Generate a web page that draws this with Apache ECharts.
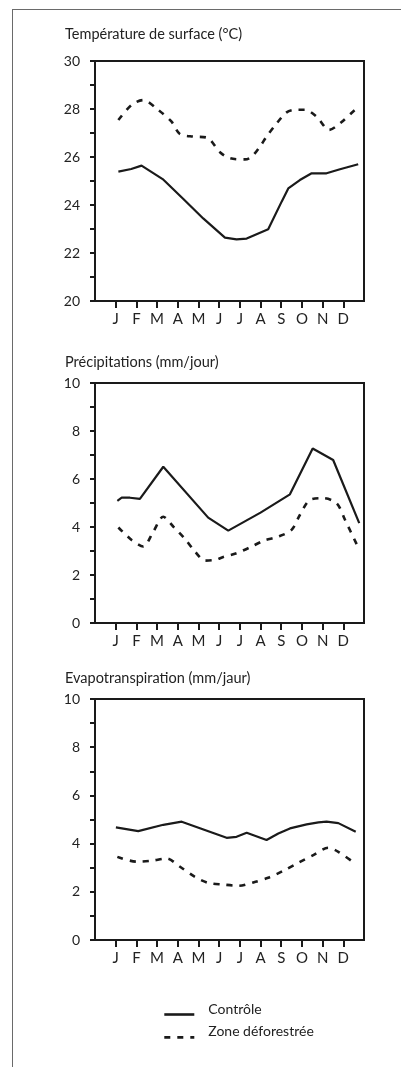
<!DOCTYPE html>
<html>
<head>
<meta charset="utf-8">
<script src="https://cdn.jsdelivr.net/npm/echarts@6/dist/echarts.min.js"></script>
<style>
  html, body { margin: 0; padding: 0; background: #fff; }
  #chart { width: 401px; height: 1067px; }
  #frame {
    position: absolute; left: 12px; top: 9px; right: 0; bottom: 0;
    border-top: 1.5px solid #6a6a6a; border-left: 1.5px solid #6a6a6a;
    pointer-events: none;
  }
</style>
</head>
<body>
<div id="chart"></div>
<div id="frame"></div>
<script>
// Month initials shown under each panel, placed at positions 1..12
const months = ['J', 'F', 'M', 'A', 'M', 'J', 'J', 'A', 'S', 'O', 'N', 'D'];
const monthPos = [1, 2, 3, 4, 5, 6, 7, 8, 9, 10, 11, 12];

const panelTitles = [
  'Température de surface (°C)',
  'Précipitations (mm/jour)',
  'Evapotranspiration (mm/jaur)'
];
const yMin = [20, 0, 0];
const yMax = [30, 10, 10];

const seriesNames = ['Contrôle', 'Zone déforestrée'];

// [month position, value]
const tempControle = [
  [1.13, 25.39], [1.75, 25.5], [2.25, 25.64], [3.27, 25.08], [4.27, 24.25],
  [5.23, 23.44], [6.28, 22.64], [6.84, 22.57], [7.33, 22.6], [8.37, 22.99],
  [9.02, 24.14], [9.34, 24.69], [9.9, 25.04], [10.47, 25.32], [11.19, 25.32],
  [11.84, 25.49], [12.72, 25.7]
];
const tempDeforest = [
  [1.13, 27.54], [1.77, 28.17], [2.33, 28.37], [3.06, 27.96], [3.7, 27.47],
  [4.1, 26.96], [4.75, 26.85], [5.4, 26.81], [6.04, 26.2], [6.52, 25.95],
  [7.25, 25.9], [7.56, 26.0], [7.97, 26.43], [8.29, 26.85], [8.78, 27.4],
  [9.26, 27.86], [9.74, 27.97], [10.14, 27.97], [10.71, 27.68], [11.32, 27.13],
  [11.84, 27.4], [12.56, 27.96], [12.72, 28.03]
];
const precControle = [
  [1.08, 5.09], [1.29, 5.22], [1.69, 5.22], [2.17, 5.17], [3.3, 6.51],
  [5.47, 4.39], [6.44, 3.85], [8.0, 4.6], [9.42, 5.36], [10.52, 7.27],
  [11.51, 6.79], [12.77, 4.16]
];
const precDeforest = [
  [1.13, 3.98], [1.77, 3.46], [2.33, 3.19], [2.82, 3.81], [3.3, 4.43],
  [3.78, 4.02], [4.35, 3.5], [4.83, 2.98], [5.31, 2.6], [5.8, 2.63],
  [6.2, 2.75], [6.84, 2.91], [7.49, 3.15], [8.13, 3.42], [8.86, 3.6],
  [9.5, 3.88], [9.9, 4.5], [10.39, 5.13], [11.03, 5.2], [11.68, 4.99],
  [12.08, 4.3], [12.72, 3.15]
];
const evapControle = [
  [1.01, 4.67], [2.09, 4.52], [3.3, 4.78], [4.19, 4.91], [6.36, 4.24],
  [6.84, 4.28], [7.33, 4.45], [8.29, 4.15], [8.86, 4.42], [9.42, 4.63],
  [10.23, 4.8], [10.8, 4.88], [11.19, 4.91], [11.76, 4.85], [12.6, 4.49]
];
const evapDeforest = [
  [1.08, 3.45], [2.01, 3.25], [2.74, 3.29], [3.46, 3.38], [4.11, 3.04],
  [4.83, 2.62], [5.48, 2.37], [6.2, 2.3], [6.92, 2.25], [7.65, 2.39],
  [8.37, 2.58], [9.1, 2.87], [9.82, 3.2], [10.55, 3.52], [11.27, 3.83],
  [11.76, 3.66], [12.56, 3.18]
];

const panelData = [
  [tempControle, tempDeforest],
  [precControle, precDeforest],
  [evapControle, evapDeforest]
];

// layout of the three stacked panels
const gridTops = [61, 383, 699];
const gridHeights = [240, 240, 241];
const titleTops = [27, 355, 671];

const FONT = 'Lato, "Liberation Sans", sans-serif';
const INK = '#1a1a1a';

const chart = echarts.init(document.getElementById('chart'), null, { renderer: 'canvas' });

const grids = [], xAxes = [], yAxes = [], series = [], titles = [];
for (let i = 0; i < 3; i++) {
  grids.push({
    left: 95, width: 269, top: gridTops[i], height: gridHeights[i],
    show: true, borderColor: INK, borderWidth: 2, backgroundColor: 'transparent'
  });
  titles.push({
    text: panelTitles[i], left: 65, top: titleTops[i], padding: 0,
    textStyle: { fontFamily: FONT, fontSize: 14.5, fontWeight: 'normal', color: '#222' }
  });
  xAxes.push({
    gridIndex: i, type: 'value', min: 0, max: 13, interval: 1,
    axisLine: { show: true, lineStyle: { color: INK, width: 2 } },
    axisTick: { show: true, customValues: monthPos, length: 7, lineStyle: { color: INK, width: 2 } },
    axisLabel: {
      customValues: monthPos,
      formatter: v => months[Math.round(v) - 1] || '',
      margin: 11, fontFamily: FONT, fontSize: 15, color: '#222'
    },
    splitLine: { show: false }
  });
  yAxes.push({
    gridIndex: i, type: 'value', min: yMin[i], max: yMax[i], interval: 1,
    axisLine: { show: true, lineStyle: { color: INK, width: 2 } },
    axisTick: { show: true, length: 5, lineStyle: { color: INK, width: 2 } },
    axisLabel: {
      formatter: v => (v % 2 === 0 ? String(v) : ''),
      margin: 15, fontFamily: FONT, fontSize: 14, color: '#222'
    },
    splitLine: { show: false }
  });
  series.push({
    name: seriesNames[0], type: 'line', xAxisIndex: i, yAxisIndex: i,
    data: panelData[i][0], symbol: 'none', smooth: false,
    lineStyle: { color: INK, width: 2.2, type: 'solid' },
    itemStyle: { color: INK }
  });
  series.push({
    name: seriesNames[1], type: 'line', xAxisIndex: i, yAxisIndex: i,
    data: panelData[i][1], symbol: 'none', smooth: 0.3,
    lineStyle: { color: INK, width: 2.6, type: [6, 7] },
    itemStyle: { color: INK }
  });
}

chart.setOption({
  backgroundColor: '#fff',
  animation: false,
  title: titles,
  grid: grids,
  xAxis: xAxes,
  yAxis: yAxes,
  legend: {
    data: seriesNames,
    orient: 'vertical',
    left: 163, top: 1002, padding: 0,
    itemWidth: 30, itemHeight: 16, itemGap: 4,
    itemStyle: { opacity: 0, color: 'transparent', borderWidth: 0 },
    lineStyle: { width: 2.6 },
    formatter: name => '{t|' + name + '}',
    textStyle: {
      fontFamily: FONT, fontSize: 14, color: '#222',
      rich: { t: { fontFamily: FONT, fontSize: 14, color: '#222', padding: [0, 0, 11, 9] } }
    }
  },
  series: series
});
</script>
</body>
</html>
